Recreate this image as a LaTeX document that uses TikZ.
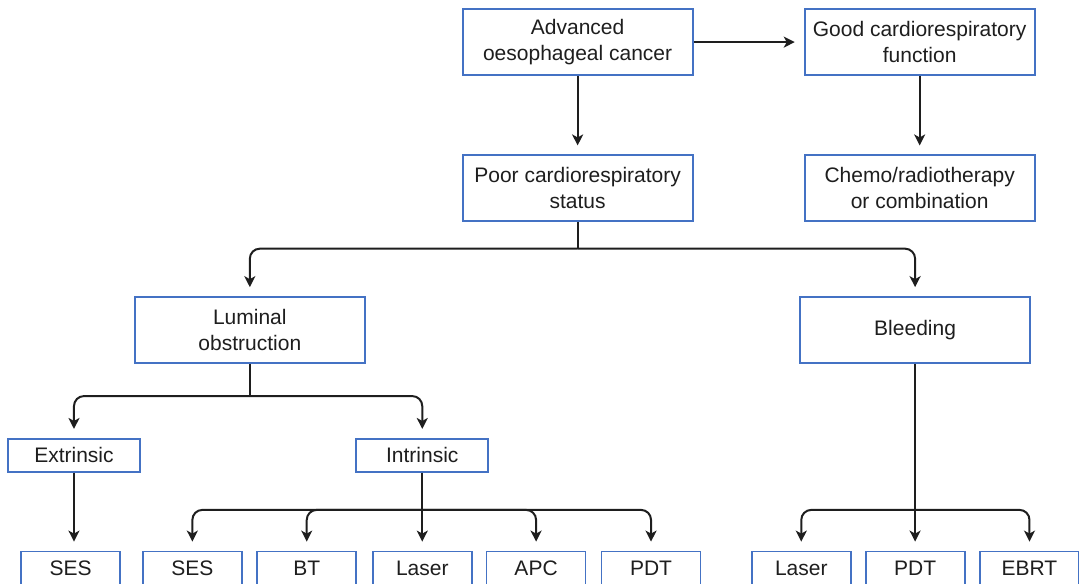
\documentclass[tikz,border=0pt]{standalone}
\usepackage{fontspec}
\setmainfont{Liberation Sans}
\usepackage{xcolor}
\usetikzlibrary{arrows.meta, calc, positioning}
\definecolor{boxblue}{RGB}{68,114,196}
\definecolor{ink}{RGB}{30,30,30}

\begin{document}
\begin{tikzpicture}[
  box/.style={draw=boxblue, line width=0.9pt, fill=white, text=ink, align=center, inner sep=1pt, font=\fontsize{10.5}{13}\selectfont},
  bigbox/.style={box, minimum width=115pt, minimum height=33pt},
  midbox/.style={box, minimum width=66pt, minimum height=16.4pt},
  smallbox/.style={box, minimum width=49.5pt, minimum height=17pt},
  link/.style={draw=ink, line width=1pt, rounded corners=5pt},
  arr/.style={link, -{Stealth[length=5.5pt, width=5.5pt, inset=1.5pt]}, shorten >=4.5pt}
]
\useasboundingbox (0,0) rectangle (18.96,10.26);
\clip (0,0) rectangle (18.96,10.26);

% Top rows
\node[bigbox] (adv) at (10.15,9.52) {Advanced\\oesophageal cancer};
\node[bigbox] (good) at (16.16,9.52) {Good cardiorespiratory\\function};
\node[bigbox] (poor) at (10.15,6.95) {Poor cardiorespiratory\\status};
\node[bigbox] (chemo) at (16.16,6.95) {Chemo/radiotherapy\\or combination};

% Symptoms
\node[bigbox] (lum) at (4.39,4.46) {Luminal\\obstruction};
\node[bigbox] (bleed) at (16.08,4.46) {Bleeding};
\node[midbox] (ext) at (1.30,2.26) {Extrinsic};
\node[midbox] (intr) at (7.42,2.26) {Intrinsic};

% Treatments
\node[smallbox] (ses1) at (1.24,0.27) {SES};
\node[smallbox] (ses2) at (3.38,0.27) {SES};
\node[smallbox] (bt) at (5.39,0.27) {BT};
\node[smallbox] (laser1) at (7.42,0.27) {Laser};
\node[smallbox] (apc) at (9.42,0.27) {APC};
\node[smallbox] (pdt1) at (11.44,0.27) {PDT};
\node[smallbox] (laser2) at (14.08,0.27) {Laser};
\node[smallbox] (pdt2) at (16.08,0.27) {PDT};
\node[smallbox] (ebrt) at (18.09,0.27) {EBRT};

% Branch points
\coordinate (b1) at (10.15,5.89);
\coordinate (b2) at (4.39,3.30);
\coordinate (b3) at (7.42,1.30);
\coordinate (b4) at (16.08,1.30);

% Connectors
\draw[arr] (adv) -- (good);
\draw[arr] (adv) -- (poor);
\draw[arr] (good) -- (chemo);
\draw[link] (poor) -- (b1);
\draw[arr] (b1) -| (lum);
\draw[arr] (b1) -| (bleed);
\draw[link] (lum) -- (b2);
\draw[arr] (b2) -| (ext);
\draw[arr] (b2) -| (intr);
\draw[arr] (ext) -- (ext |- ses1.north);
\draw[arr] (intr) -- (laser1);
\foreach \t in {ses2, bt, apc, pdt1} {
  \draw[arr] (b3) -| (\t);
}
\draw[arr] (bleed) -- (pdt2);
\foreach \t in {laser2, ebrt} {
  \draw[arr] (b4) -| (\t);
}
\end{tikzpicture}
\end{document}
